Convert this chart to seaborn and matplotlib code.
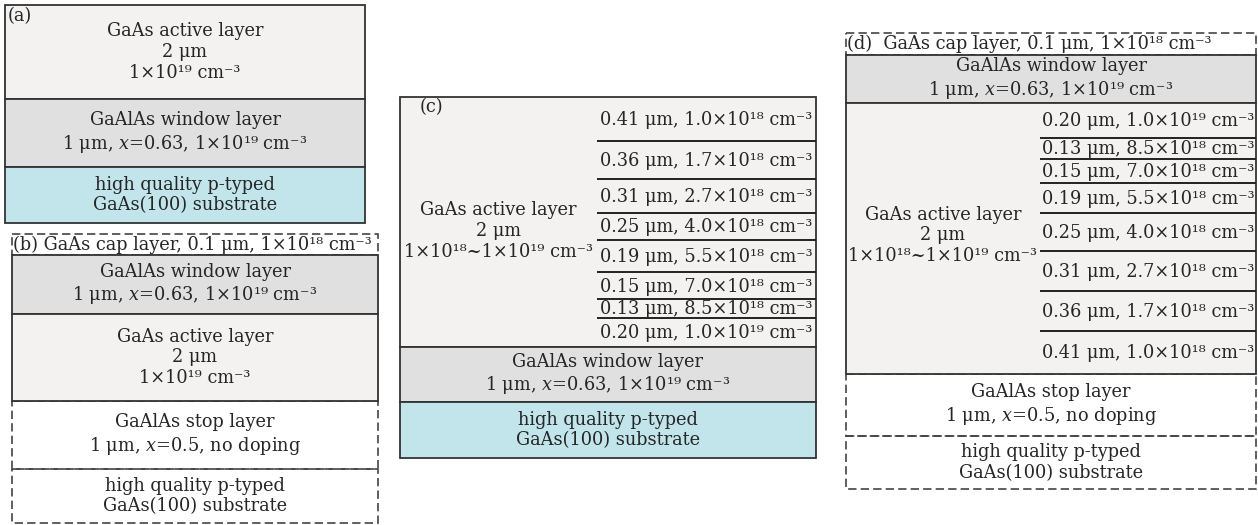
import numpy as np
import matplotlib.pyplot as plt
import seaborn as sns

sns.set_theme(style="white")
plt.rcParams['font.family'] = ['DejaVu Serif']
plt.rcParams['mathtext.fontset'] = 'dejavuserif'

SUP = str.maketrans("0123456789-", "⁰¹²³⁴⁵⁶⁷⁸⁹⁻")


def dop(m, e, unit=True):
    # concentración tipo 1×10^19 cm^-3 (superíndices unicode)
    s = f"{m}×10" + str(e).translate(SUP)
    if unit:
        s += " cm" + "-3".translate(SUP)
    return s


#%% datos

txt_active = "GaAs active layer\n2 μm\n" + dop("1", 19)
txt_active_grad = "GaAs active layer\n2 μm\n" + dop("1", 18, unit=False) + "~" + dop("1", 19)
txt_window = "GaAlAs window layer\n1 μm, $x$=0.63, " + dop("1", 19)
txt_sub = "high quality p-typed\nGaAs(100) substrate"
txt_stop = "GaAlAs stop layer\n1 μm, $x$=0.5, no doping"
txt_cap = "GaAs cap layer, 0.1 μm, " + dop("1", 18)

# sub-capas del gradiente (orden de (c), de arriba hacia abajo)
sub_thick = [0.41, 0.36, 0.31, 0.25, 0.19, 0.15, 0.13, 0.20]
sub_mant = ["1.0", "1.7", "2.7", "4.0", "5.5", "7.0", "8.5", "1.0"]
sub_exp = [18, 18, 18, 18, 18, 18, 18, 19]
sub_labels = [f"{t:.2f} μm, " + dop(m, e) for t, m, e in zip(sub_thick, sub_mant, sub_exp)]

# capas de cada estructura (tipo de capa)
layers_a = ["active", "window", "substrate"]
layers_b = ["cap", "window", "active", "stop", "substrate_bare"]
layers_c = ["active", "window", "substrate"]
layers_d = ["cap", "window", "active", "stop", "substrate_bare"]

#%% estilos y geometría (pixeles)

fill = {"active": "#f3f2f0", "window": "#e0e0e0", "substrate": "#c2e5eb",
        "substrate_bare": "none", "cap": "none", "stop": "none"}
dashed = {"active": False, "window": False, "substrate": False,
          "substrate_bare": True, "cap": True, "stop": True}
texts = {"active": txt_active, "window": txt_window, "substrate": txt_sub,
         "substrate_bare": txt_sub, "stop": txt_stop}

panels = [
    dict(name="(a)", layers=layers_a, x0=5, x1=365, top=5, h=[94, 68, 56]),
    dict(name="(b)", layers=layers_b, x0=12, x1=378, top=234, h=[21, 59, 87, 68, 54]),
    dict(name="(c)", layers=layers_c, x0=400, x1=816, top=97, h=[250, 55, 56],
         sub_x=597, sub_h=[44, 38, 34, 27, 32, 27, 19, 29], sub_rev=False, dy=9),
    dict(name="(d)", layers=layers_d, x0=846, x1=1256, top=33, h=[22, 48, 271, 62, 53],
         sub_x=1040, sub_h=[35, 21, 24, 30, 38, 40, 40, 43], sub_rev=True, dy=-3),
]

FS = 12.8
LS = 1.2
EDGE = "#333333"

fig = plt.figure(figsize=(12.58, 5.25), dpi=100)
ax = fig.add_axes([0, 0, 1, 1])
ax.set_xlim(0, 1258)
ax.set_ylim(525, 0)
ax.axis("off")

for p in panels:
    x0, x1 = p["x0"], p["x1"]
    xc = (x0 + x1) / 2
    bottoms = p["top"] + np.concatenate([[0], np.cumsum(p["h"])[:-1]])
    # primero las punteadas, luego las sólidas encima
    for solid in (False, True):
        for kind, b, h in zip(p["layers"], bottoms, p["h"]):
            if dashed[kind] == solid:
                continue
            ax.bar(xc, h, width=x1 - x0, bottom=b, color=fill[kind],
                   edgecolor=EDGE if solid else "#444444",
                   linewidth=1.3 if solid else 1.2,
                   linestyle="-" if solid else (0, (5, 2.5)), zorder=2 if solid else 1)

    for kind, b, h in zip(p["layers"], bottoms, p["h"]):
        yc = b + h / 2
        if kind == "cap":
            ax.text(x0 + 1, yc, p["name"] + (" " if p["name"] == "(b)" else "  ") + txt_cap,
                    ha="left", va="center", fontsize=FS, zorder=5)
        elif kind == "active" and "sub_h" in p:
            lab = sub_labels[::-1] if p["sub_rev"] else sub_labels
            sb = b + np.concatenate([[0], np.cumsum(p["sub_h"])[:-1]])
            ax.hlines(sb[1:], p["sub_x"], x1, color="#222222", lw=1.4, zorder=3)
            sxc = (p["sub_x"] + x1) / 2
            for s_lab, s_b, s_h in zip(lab, sb, p["sub_h"]):
                ax.text(sxc, s_b + s_h / 2 + 1, s_lab, ha="center", va="center",
                        fontsize=FS, zorder=5)
            ax.text((x0 + p["sub_x"]) / 2, yc + p["dy"], txt_active_grad,
                    ha="center", va="center", fontsize=FS, linespacing=LS, zorder=5)
        else:
            ax.text(xc, yc, texts[kind], ha="center", va="center", fontsize=FS,
                    linespacing=LS, zorder=5)

ax.text(8, 16, "(a)", ha="left", va="center", fontsize=FS, zorder=5)
ax.text(420, 107, "(c)", ha="left", va="center", fontsize=FS, zorder=5)

fig.savefig("out.png", dpi=100)
